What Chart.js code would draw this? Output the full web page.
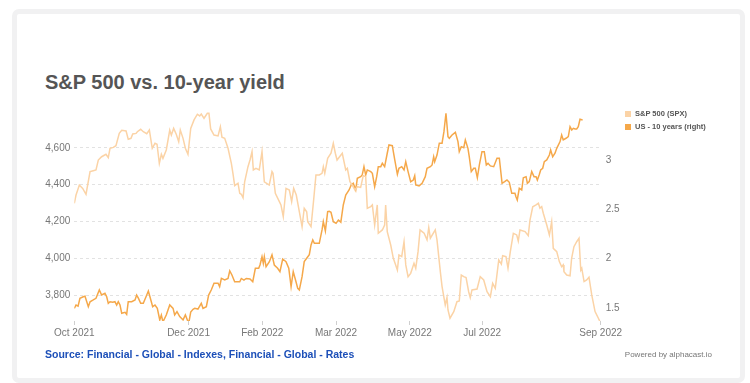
<!DOCTYPE html>
<html>
<head>
<meta charset="utf-8">
<script src="https://cdn.jsdelivr.net/npm/chart.js@4.4.1/dist/chart.umd.min.js"></script>
<style>
  html, body { margin: 0; padding: 0; background: #ffffff; width: 750px; height: 383px; overflow: hidden; font-family: "Liberation Sans", Arial, sans-serif; }
  .frame { position: absolute; left: 12px; top: 9px; width: 733px; height: 374px; box-sizing: border-box; border: 5px solid #f1f1f2; border-radius: 7px; background: #fff; }
  .title { position: absolute; left: 45px; top: 71px; font-size: 20px; font-weight: bold; color: #555555; white-space: nowrap; line-height: 23px; }
  .legend { position: absolute; left: 625px; top: 108px; font-size: 7.5px; font-weight: bold; color: #555; }
  .legend .row { position: relative; height: 12.5px; line-height: 11px; padding-left: 10px; white-space: nowrap; }
  .legend .box { position: absolute; left: 0; top: 3px; width: 6px; height: 6px; }
  .source { position: absolute; left: 45px; top: 348px; font-size: 10.5px; font-weight: bold; color: #1c4fb8; white-space: nowrap; }
  .powered { position: absolute; right: 38px; top: 350px; font-size: 8px; color: #777; white-space: nowrap; }
  canvas { position: absolute; left: 0; top: 0; }
</style>
</head>
<body>
<div class="frame"></div>
<div class="title">S&amp;P 500 vs. 10-year yield</div>
<canvas id="c" width="750" height="383"></canvas>
<div class="legend" id="legend"></div>
<div class="source">Source: Financial - Global - Indexes, Financial - Global - Rates</div>
<div class="powered">Powered by alphacast.io</div>
<script>
// x values are days since 2021-10-01
const startDate = '2021-10-01';
const seriesNames = ['S&P 500 (SPX)', 'US - 10 years (right)'];
const tickDays = [0, 79, 130, 181, 232, 282, 364];
const tickLabels = ['Oct 2021', 'Dec 2021', 'Feb 2022', 'Mar 2022', 'May 2022', 'Jul 2022', 'Sep 2022'];
const leftTicks = [3800, 4000, 4200, 4400, 4600];
const rightTicks = [1.5, 2, 2.5, 3];

const spxDay = [
  0,1.2,3.5,5.8,8.1,10.9,13.1,15,16.6,18.9,
  21.9,23.5,24.7,27,28.8,31.1,32.8,35.8,37.3,39.2,
  40.4,42.7,43.6,45.9,47.7,50.1,51.9,53.9,55.8,57.2,
  58.8,60.2,61.3,63.6,66,67.1,68.7,70.5,72.2,73.3,
  75.2,76.8,78.6,80.5,82.8,85.1,86.7,87.8,89.7,92,
  93.1,94.3,96.6,99.4,101,102.1,104,106.3,108.6,109.7,
  110.9,113.2,114.4,115.5,116.7,117.8,120.1,121.5,122.9,123.8,
  125.6,127.9,129.8,131.4,134.8,136.7,137.4,139,141.8,142.9,
  144.5,146.4,148.7,150.3,151.7,153.5,155.6,157.5,159,160.7,
  161.4,163.7,165.5,167.1,169.4,171.3,172.2,173.2,175.2,177.5,
  179.1,180.5,181.7,185.3,187.7,188.8,190.6,192.2,194.1,195.7,
  198,199.8,201.5,202.6,205,206.1,207.7,209.5,210.2,213,
  214.6,215.3,216.4,218.8,220.6,221.8,223.4,224.5,226.4,228,
  229.2,230.8,232.6,234.9,236.1,237.7,239.1,240.5,241.9,243.9,
  245.1,246.2,249.6,250.8,253.1,254.3,256.5,257.7,258.4,259.8,
  262.4,264.6,266.2,267.6,269.3,270.9,272.7,273.8,275,278.5,
  280.7,283.1,285.4,287.7,289.3,291.1,293.5,295.3,296.2,298.5,
  299.9,301.5,303.6,305.9,307,308.2,311.7,313.9,315.1,317,
  319.3,320.9,322,323.2,324.3,326.7,328.5,330.1,331.2,333.6,
  335.4,337,338.1,338.6,340.5,342.8,343.9,345.5,347.4,349,
  350.2,350.9,352.5,354.3,355.9,357.8,360.1,362.4,364
];
const spxValue = [
  4299,4344,4398,4380,4348,4471,4476,4480,4534,4552,
  4565,4547,4598,4603,4612,4679,4696,4692,4647,4652,
  4676,4679,4688,4701,4688,4677,4697,4598,4625,4620,
  4516,4565,4543,4589,4697,4670,4706,4674,4634,4697,
  4652,4598,4565,4706,4752,4783,4774,4784,4761,4788,
  4788,4703,4670,4665,4715,4658,4652,4598,4516,4462,
  4395,4408,4353,4348,4329,4416,4498,4534,4580,4480,
  4489,4480,4580,4416,4398,4471,4462,4353,4308,4290,
  4226,4380,4371,4308,4380,4344,4253,4172,4272,4253,
  4199,4172,4317,4453,4453,4462,4498,4462,4543,4571,
  4625,4571,4534,4571,4480,4489,4416,4398,4371,4389,
  4385,4449,4444,4272,4281,4290,4181,4290,4136,4154,
  4181,4290,4145,4072,4000,3973,3936,4018,4009,4090,
  3964,3900,3918,3973,3946,4036,4154,4145,4136,4100,
  4166,4109,4154,4100,3927,3846,3746,3786,3719,3674,
  3710,3764,3768,3909,3900,3895,3818,3786,3828,3833,
  3900,3882,3818,3791,3864,3837,3991,3968,4014,4009,
  3946,4036,4136,4127,4094,4154,4145,4123,4208,4280,
  4290,4299,4272,4281,4245,4181,4127,4199,4054,4036,
  3982,3954,3964,3927,3909,3905,4000,4063,4090,4109,
  3936,3946,3873,3882,3897,3801,3710,3674,3647
];

const yieldDay = [
  0,1.2,2.6,3.9,6.2,7.4,9.7,10.9,13.1,15,
  17.3,18.9,21.2,22.4,23.5,24.7,26.6,28.1,29.3,30.4,
  31.6,32.8,35.1,36.2,37.3,39.7,42,43.1,44.3,45.9,
  47.7,49.6,51.2,52.3,54.2,55.8,57.4,59.1,60.2,61.3,
  63.6,66,68.3,69.4,71,72.9,75.2,76.8,79.1,80.5,
  82.1,83.3,85.5,87.8,89,91.3,92.9,94.7,96.6,99.4,
  100.5,101.7,104,106.3,107.5,109,110.9,114.4,115.5,117.3,
  118.9,121.5,123.4,125.2,127.5,128.4,129.8,130.7,131.4,132.6,
  134.9,136.7,138.3,140.6,142.2,144.1,146.4,148.3,149.9,151.4,
  153.3,154.5,155.6,157.5,159,160.7,162.5,163.7,164.9,166,
  167.6,169.4,171.3,172.2,173.6,175.2,176.3,177.5,179.1,181,
  182.6,184.3,186,187.7,190,191.5,192.9,194.6,195.7,198,
  199.1,200.3,201.5,202.6,205,206.1,207.7,209.1,210.2,211.9,
  213,214.6,216.4,217.6,219.9,221.6,223.4,224.5,226.4,228,
  229.2,230.8,232.6,234.4,235.4,236.1,238.4,240.5,242.7,243.9,
  246.2,247.4,248.5,249.2,250.8,252.4,254.3,255.6,257,258.4,
  259.3,261.2,263.5,265.3,266.2,267.6,269.3,270.4,272.2,273.1,
  274.5,276.2,277.3,278.7,280.1,281.9,283.5,284.9,286.1,287.7,
  290,292.3,293.9,295.8,297.6,299.2,300.8,302.5,304.7,305.4,
  306.3,307.7,309.4,310.5,312.4,313.3,314.6,316.3,317.9,319.3,
  320.2,321.5,322.5,323.9,325,326.7,328.5,329.4,330.8,332.4,
  333.6,335.9,337,338.1,340,341.6,342.8,344,345.1,346.3,
  347.4,348.5,349.7,351.5
];
const yieldValue = [
  1.497,1.531,1.52,1.599,1.615,1.62,1.514,1.564,1.582,1.599,
  1.683,1.632,1.649,1.615,1.548,1.564,1.558,1.564,1.531,1.564,
  1.531,1.447,1.457,1.437,1.564,1.564,1.582,1.632,1.6,1.548,
  1.548,1.615,1.673,1.615,1.514,1.531,1.497,1.379,1.43,1.36,
  1.43,1.531,1.497,1.43,1.464,1.413,1.38,1.43,1.345,1.46,
  1.487,1.497,1.49,1.548,1.497,1.514,1.632,1.683,1.751,1.751,
  1.717,1.8,1.784,1.8,1.876,1.835,1.767,1.767,1.8,1.784,
  1.8,1.794,1.767,1.903,1.903,1.936,2.02,1.953,2.02,1.919,
  1.97,2.04,1.936,1.903,1.869,1.997,1.97,1.903,1.717,1.869,
  1.767,1.7,1.683,1.818,1.97,2.004,2.04,2.139,2.19,2.156,
  2.156,2.156,2.291,2.375,2.281,2.476,2.48,2.47,2.375,2.358,
  2.392,2.37,2.544,2.645,2.696,2.747,2.764,2.696,2.814,2.831,
  2.848,2.932,2.848,2.899,2.882,2.865,2.73,2.831,2.932,2.932,
  2.966,2.932,3.068,3.152,3.145,3.0,2.855,2.916,2.932,2.899,
  2.983,2.882,2.78,2.797,2.84,2.747,2.737,2.764,2.831,2.916,
  2.932,2.95,3.033,2.983,3.05,3.17,3.17,3.287,3.473,3.236,
  3.22,3.253,3.28,3.186,3.084,3.135,3.125,3.203,3.118,3.033,
  2.882,2.916,2.916,2.82,2.95,3.084,3.084,2.95,2.966,2.94,
  2.932,3.017,3.017,2.764,2.78,2.797,2.774,2.662,2.662,2.628,
  2.595,2.713,2.696,2.82,2.831,2.764,2.78,2.882,2.831,2.831,
  2.797,2.85,2.899,2.916,2.983,3.0,3.05,3.101,3.033,3.068,
  3.118,3.186,3.253,3.203,3.22,3.236,3.337,3.304,3.321,3.314,
  3.314,3.337,3.412,3.405
];

const colors = ['#fbd3a6', '#f5a84a'];

// HTML legend (real text)
const legendEl = document.getElementById('legend');
seriesNames.forEach((name, i) => {
  const row = document.createElement('div');
  row.className = 'row';
  const box = document.createElement('span');
  box.className = 'box';
  box.style.background = colors[i];
  row.appendChild(box);
  row.appendChild(document.createTextNode(name));
  legendEl.appendChild(row);
});

Chart.defaults.font.family = '"Liberation Sans", Arial, sans-serif';

const tickColor = '#777777';

new Chart(document.getElementById('c'), {
  type: 'line',
  data: {
    datasets: [
      {
        label: seriesNames[0],
        data: spxDay.map((d, i) => ({ x: d, y: spxValue[i] })),
        borderColor: colors[0],
        backgroundColor: colors[0],
        borderWidth: 1.5,
        pointRadius: 0,
        tension: 0,
        yAxisID: 'yLeft'
      },
      {
        label: seriesNames[1],
        data: yieldDay.map((d, i) => ({ x: d, y: yieldValue[i] })),
        borderColor: colors[1],
        backgroundColor: colors[1],
        borderWidth: 1.5,
        pointRadius: 0,
        tension: 0,
        yAxisID: 'yRight'
      }
    ]
  },
  options: {
    responsive: false,
    animation: false,
    devicePixelRatio: 1,
    layout: { padding: { top: 111, left: 44.3, right: 119.3, bottom: 42 } },
    plugins: { legend: { display: false }, tooltip: { enabled: false } },
    scales: {
      x: {
        type: 'linear',
        min: 0,
        max: 364,
        afterBuildTicks: (s) => { s.ticks = tickDays.map(v => ({ value: v })); },
        afterFit: (s) => { s.height = 20; },
        grid: { drawOnChartArea: false, drawTicks: true, tickLength: 4, color: '#cfcfcf' },
        border: { display: false },
        ticks: {
          autoSkip: false, maxRotation: 0, minRotation: 0, padding: 2,
          color: tickColor, font: { size: 10 },
          callback: (v, i) => tickLabels[i]
        }
      },
      yLeft: {
        type: 'linear',
        position: 'left',
        min: 3659,
        max: 4800.6,
        afterBuildTicks: (s) => { s.ticks = leftTicks.map(v => ({ value: v })); },
        afterFit: (s) => { s.width = 30; },
        grid: { color: '#e2e2e2', drawTicks: false, lineWidth: 1 },
        border: { display: false, dash: [3, 3] },
        ticks: {
          padding: 4, color: tickColor, font: { size: 10 },
          callback: (v) => v.toLocaleString('en-US')
        }
      },
      yRight: {
        type: 'linear',
        position: 'right',
        min: 1.369,
        max: 3.496,
        afterBuildTicks: (s) => { s.ticks = rightTicks.map(v => ({ value: v })); },
        afterFit: (s) => { s.width = 30; },
        grid: { drawOnChartArea: false, drawTicks: false },
        border: { display: false },
        ticks: {
          padding: 5, color: tickColor, font: { size: 10 },
          callback: (v) => String(v)
        }
      }
    }
  }
});
</script>
</body>
</html>
